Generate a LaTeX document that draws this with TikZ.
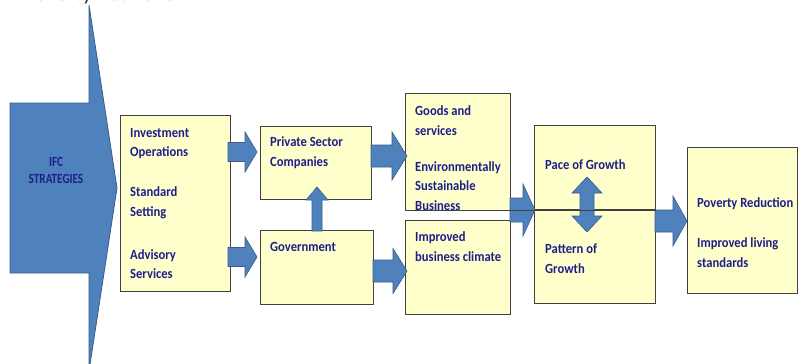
\documentclass[tikz,border=0pt]{standalone}
\usepackage{fontspec}
\setmainfont{Carlito}
\newfontfamily\narrowfont[FakeStretch=0.8]{Carlito}
\newfontfamily\bodyfont[FakeStretch=0.9]{Carlito}
\definecolor{boxfill}{HTML}{FFFFCC}
\definecolor{boxline}{HTML}{404040}
\definecolor{txt}{RGB}{30,30,140}
\definecolor{arrfill}{HTML}{4F81BD}
\definecolor{arrline}{HTML}{385D8A}
\newcommand{\harr}[6]{\filldraw[barrow] (#1,{#3-#4}) -- ({#2-#6},{#3-#4}) -- ({#2-#6},{#3-#5}) -- (#2,#3) -- ({#2-#6},{#3+#5}) -- ({#2-#6},{#3+#4}) -- (#1,{#3+#4}) -- cycle;}
\newcommand{\varr}[6]{\filldraw[barrow] ({#1-#4},#2) -- ({#1-#4},{#3+#6}) -- ({#1-#5},{#3+#6}) -- (#1,#3) -- ({#1+#5},{#3+#6}) -- ({#1+#4},{#3+#6}) -- ({#1+#4},#2) -- cycle;}
\begin{document}
\begin{tikzpicture}[x=1pt,y=-1pt,
  box/.style={draw=boxline, fill=boxfill, line width=0.8pt, anchor=north west, inner sep=0pt},
  lbl/.style={text=txt, font=\bodyfont\fontsize{14}{19.5}\selectfont\bfseries, align=left, anchor=west, inner sep=0pt},
  barrow/.style={fill=arrfill, draw=arrline, line width=0.6pt, line join=miter}]
\useasboundingbox (0,0) rectangle (798,364);
\fill[white] (0,0) rectangle (798,364);
% clipped title fragment at the top
\node[anchor=base west, inner sep=0pt, font=\fontsize{22}{22}\selectfont, text=black!80] (title) at (24,0.3) {Poverty Reduction};
% big strategy arrow
\filldraw[fill=arrfill, draw=arrline, line width=0.8pt, line join=miter]
  (10,103) -- (89,103) -- (89,5) -- (117,188) -- (89,371) -- (89,273) -- (10,273) -- cycle;
\node[text=txt, font=\narrowfont\fontsize{14}{17}\selectfont\bfseries, align=center, inner sep=0pt] (ifc) at (56,170) {IFC\\STRATEGIES};
% boxes
\node[box, minimum width=110pt, minimum height=176pt] (b1) at (120,115) {};
\node[box, minimum width=111pt, minimum height=73pt] (pri) at (260,126) {};
\node[box, minimum width=113pt, minimum height=74pt] (gov) at (260,230) {};
\node[box, minimum width=105pt, minimum height=117pt] (goods) at (405,93) {};
\node[box, minimum width=105pt, minimum height=94pt] (impr) at (405,220) {};
\node[box, minimum width=121pt, minimum height=84pt] (pace) at (534,125) {};
\node[box, minimum width=121pt, minimum height=94pt] (patt) at (534,209) {};
\node[box, minimum width=110pt, minimum height=146pt] (pov) at (687,147) {};
% block arrows
\harr{228}{257}{152}{9.5}{20}{12}
\harr{228}{257}{257}{9.5}{20}{12}
\harr{371}{407}{156}{11}{24}{15}
\harr{373}{407}{271}{11}{22.5}{14}
\harr{510}{535}{210}{12}{26}{12}
\harr{655}{687}{221}{11}{25}{14}
\varr{317}{231}{187}{5}{11}{13}
\filldraw[barrow] (587,177) -- (602,193) -- (594,193) -- (594,216) -- (602,216) -- (587,232)
  -- (572,216) -- (580,216) -- (580,193) -- (572,193) -- cycle;
% labels
\node[lbl] (t1) at (130,143.5) {Investment\\Operations};
\node[lbl] (t2) at (130,203) {Standard\\Setting};
\node[lbl] (t3) at (130,264) {Advisory\\Services};
\node[lbl] (t4) at (270,152.5) {Private Sector\\Companies};
\node[lbl] (t5) at (270,247) {Government};
\node[lbl] (t6) at (415,120.5) {Goods and\\services};
\node[lbl] (t7) at (415,186) {Environmentally\\Sustainable\\Business};
\node[lbl] (t8) at (415,246.5) {Improved\\business climate};
\node[lbl] (t9) at (545,165) {Pace of Growth};
\node[lbl] (t10) at (545,258.5) {Pattern of\\Growth};
\node[lbl] (t11) at (697,204) {Poverty Reduction};
\node[lbl] (t12) at (697,252.5) {Improved living\\standards};
% dividing line
\draw[boxline, line width=0.8pt] (goods.south west) -- (goods.south west -| patt.east);
\end{tikzpicture}
\end{document}
